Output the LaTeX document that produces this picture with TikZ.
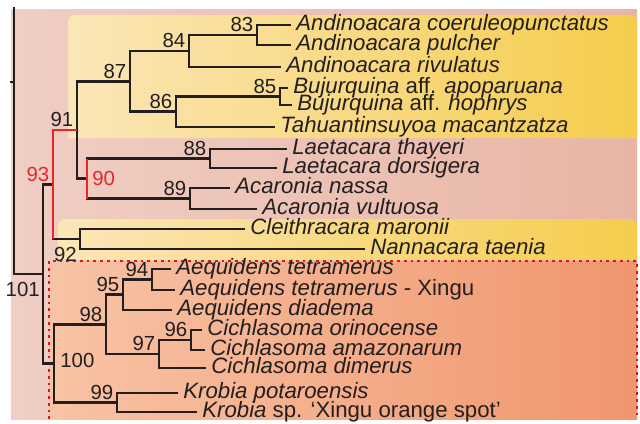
\documentclass[tikz,border=0pt]{standalone}
\usepackage{fontspec}
\setmainfont{Liberation Sans}
\usetikzlibrary{positioning}
\definecolor{ink}{HTML}{231F20}
\definecolor{hot}{HTML}{E8262B}
\definecolor{pinkL}{HTML}{F0CEC4}
\definecolor{pinkR}{HTML}{E8B5A5}
\definecolor{goldL}{HTML}{FBE6B8}
\definecolor{goldM}{HTML}{F9DE98}
\definecolor{goldR}{HTML}{F5CD4C}
\definecolor{coralL}{HTML}{F8C3A5}
\definecolor{coralR}{HTML}{F0966E}
\definecolor{dots}{HTML}{E0141B}
\tikzset{
  branch/.style={draw=ink, line width=1.8pt},
  hotbranch/.style={draw=hot, line width=1.8pt},
  leaf/.style={font=\fontsize{15.8}{16}\selectfont\itshape, text=ink, anchor=west,
    inner xsep=3.6pt, inner ysep=0pt, text height=11.3pt, text depth=3.3pt},
  num/.style={font=\fontsize{14.5}{15}\selectfont, text=ink, inner sep=0pt},
  hotnum/.style={num, text=hot},
  dotbox/.style={draw=dots, line width=1.8pt, dash pattern=on 1.8pt off 3pt}
}

\begin{document}
\begin{tikzpicture}[x=0.025cm,y=-0.025cm]
\useasboundingbox (0,0) rectangle (640,423);

% Panels
\shade[left color=pinkL, right color=pinkR] (11,9) rectangle (637,419);
\shade[left color=goldL, middle color=goldM, right color=goldR]
  (68,138) [rounded corners=5pt] |- (637,15) [sharp corners] -- (637,138) -- cycle;
\shade[left color=goldL, middle color=goldM, right color=goldR]
  (58,260) [rounded corners=5pt] |- (637,219) [sharp corners] -- (637,260) -- cycle;
\shade[left color=coralL, right color=coralR] (49,261) rectangle (637,419);
\draw[dotbox] (49,419) -- (49,261) -- (637,261) -- (637,419);

% Taxa
\node[leaf] (coeruleo) at (291,25) {Andinoacara coeruleopunctatus};
\node[leaf] (pulcher) at (291,45) {Andinoacara pulcher};
\node[leaf] (rivulatus) at (281,67) {Andinoacara rivulatus};
\node[leaf] (apoparuana) at (288,88) {Bujurquina \textup{aff.} apoparuana};
\node[leaf] (hophrys) at (292,105) {Bujurquina \textup{aff.} hophrys};
\node[leaf] (macantz) at (275,127) {Tahuantinsuyoa macantzatza};
\node[leaf] (thayeri) at (287,149) {Laetacara thayeri};
\node[leaf] (dorsigera) at (277,168) {Laetacara dorsigera};
\node[leaf] (nassa) at (230,188) {Acaronia nassa};
\node[leaf] (vultuosa) at (257,209) {Acaronia vultuosa};
\node[leaf] (maronii) at (245,229) {Cleithracara maronii};
\node[leaf] (taenia) at (365,249) {Nannacara taenia};
\node[leaf] (tetra) at (171,269) {Aequidens tetramerus};
\node[leaf] (tetraX) at (175,290) {Aequidens tetramerus \textup{- Xingu}};
\node[leaf] (diadema) at (172,310) {Aequidens diadema};
\node[leaf] (orinoc) at (202,330) {Cichlasoma orinocense};
\node[leaf] (amazon) at (205,350) {Cichlasoma amazonarum};
\node[leaf] (dimerus) at (206,368) {Cichlasoma dimerus};
\node[leaf] (potaro) at (178,393) {Krobia potaroensis};
\node[leaf] (xorange) at (197,412) {Krobia \textup{sp. ‘Xingu orange spot’}};

% Internal nodes
\coordinate (n83) at (257,35);
\coordinate (n84) at (189,51);
\coordinate (n85) at (280,96.5);
\coordinate (n86) at (176,111.75);
\coordinate (n87) at (130,81.4);
\coordinate (n88) at (210,158.5);
\coordinate (n89) at (190,198.5);
\coordinate (n90) at (87,178.5);
\coordinate (n91) at (77,130);
\coordinate (n92) at (80,239);
\coordinate (n93) at (53,184.5);
\coordinate (n94) at (152,279.5);
\coordinate (n95) at (123,294.75);
\coordinate (n96) at (191,340);
\coordinate (n97) at (159,354);
\coordinate (n98) at (106,324.4);
\coordinate (n99) at (117,402.5);
\coordinate (n100) at (54,363.5);
\coordinate (n101) at (43,274);
\coordinate (root) at (14,82);
\coordinate (rtop) at (14,7);
\coordinate (rstub) at (10,82);

% Branches
\draw[branch] (coeruleo.west) -| (n83) |- (pulcher.west);
\draw[branch] (n83) -| (n84) |- (rivulatus.west);
\draw[branch] (apoparuana.west) -| (n85) |- (hophrys.west);
\draw[branch] (n85) -| (n86) |- (macantz.west);
\draw[branch] (n84) -| (n87) |- (n86);
\draw[branch] (thayeri.west) -| (n88) |- (dorsigera.west);
\draw[branch] (nassa.west) -| (n89) |- (vultuosa.west);
\draw[branch] (n88) -| (n90) |- (n89);
\draw[branch] (n87) -| (n91) |- (n90);
\draw[branch] (maronii.west) -| (n92) |- (taenia.west);
\draw[branch] (n91) -| (n93) |- (n92);
\draw[branch] (tetra.west) -| (n94) |- (tetraX.west);
\draw[branch] (n94) -| (n95) |- (diadema.west);
\draw[branch] (orinoc.west) -| (n96) |- (amazon.west);
\draw[branch] (n96) -| (n97) |- (dimerus.west);
\draw[branch] (n95) -| (n98) |- (n97);
\draw[branch] (potaro.west) -| (n99) |- (xorange.west);
\draw[branch] (n98) -| (n100) |- (n99);
\draw[branch] (n93) -| (n101) |- (n100);
\draw[branch] (rtop) -- (root) |- (n101);
\draw[branch] (rstub) -- (root);

% Highlighted split
\draw[hotbranch] (n91) -| (n93) -- (n93 |- n92);
\draw[hotbranch] (n90 |- n88) -- (n90 |- n89);

% Node numbers
\node[num, above left=1.9pt and 2.5pt of n83] (t83) {83};
\node[num, above left=1.9pt and 2.5pt of n84] (t84) {84};
\node[num, above left=1.9pt and 2.5pt of n85] (t85) {85};
\node[num, above left=1.9pt and 2.5pt of n86] (t86) {86};
\node[num, above left=1.9pt and 2.5pt of n87] (t87) {87};
\node[num, above left=1.9pt and 2.5pt of n88] (t88) {88};
\node[num, above left=1.9pt and 2.5pt of n89] (t89) {89};
\node[hotnum, right=3.6pt of n90] (t90) {90};
\node[num, above left=1.9pt and 2.5pt of n91] (t91) {91};
\node[num, below left=5.7pt and 2.1pt of n92] (t92) {92};
\node[hotnum, above left=1.9pt and 2.5pt of n93] (t93) {93};
\node[num, above left=1.9pt and 2.5pt of n94] (t94) {94};
\node[num, above left=1.9pt and 2.5pt of n95] (t95) {95};
\node[num, above left=1.9pt and 2.5pt of n96] (t96) {96};
\node[num, above left=1.9pt and 2.5pt of n97] (t97) {97};
\node[num, above left=1.9pt and 2.5pt of n98] (t98) {98};
\node[num, above left=1.9pt and 2.5pt of n99] (t99) {99};
\node[num, right=4.3pt of n100, yshift=1.8pt] (t100) {100};
\node[num, below left=5.7pt and 2.1pt of n101] (t101) {101};

\end{tikzpicture}
\end{document}
